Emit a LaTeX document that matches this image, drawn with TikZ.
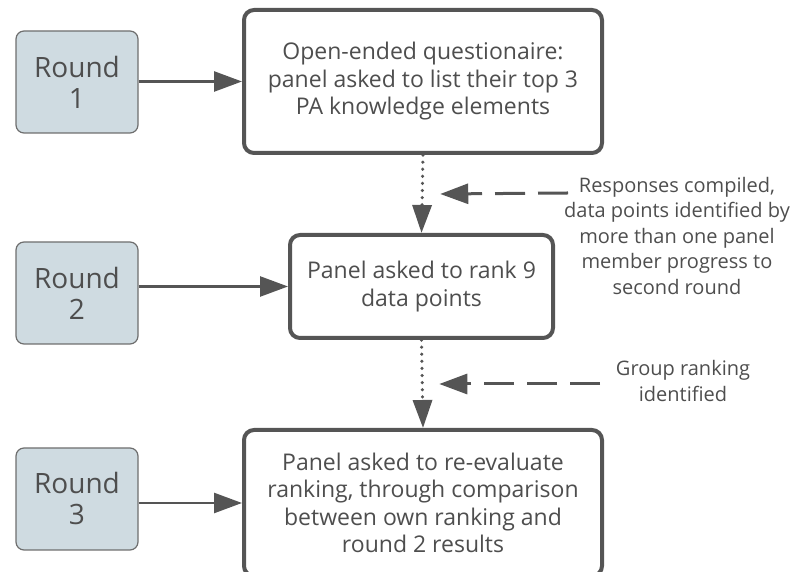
\documentclass[tikz,border=0pt]{standalone}
\usepackage{fontspec}
\setmainfont{Open Sans}
\usetikzlibrary{arrows.meta, positioning, calc}

\definecolor{linegray}{RGB}{85,85,85}
\definecolor{roundfill}{RGB}{207,219,225}
\definecolor{textgray}{RGB}{78,78,78}

\begin{document}
\begin{tikzpicture}[
  x=1pt, y=1pt,
  roundbox/.style = {draw=linegray!85, fill=roundfill, line width=1.2pt, rounded corners=8pt,
                     minimum width=122pt, minimum height=102pt, align=center,
                     font=\fontsize{28}{31}\selectfont, text=textgray},
  stepbox/.style = {draw=linegray, fill=white, line width=4pt, rounded corners=10pt,
                    align=center, font=\fontsize{23}{27.5}\selectfont, text=textgray},
  note/.style = {align=center, font=\fontsize{20}{25.5}\selectfont, text=textgray},
  flow/.style = {draw=linegray, line width=2.6pt, -{Triangle[length=28pt, width=20pt]}},
  pass/.style = {flow, line width=3.4pt, line cap=round, dash pattern=on 0.1pt off 7pt,
                 -{Triangle[length=28pt, width=19pt, line cap=butt]}},
  feedback/.style = {flow, line width=3pt, dash pattern=on 30pt off 13pt}
]

% Frame
\useasboundingbox (0,0) rectangle (795,572);

% Rounds
\node[roundbox] (r1) at (77,490) {Round\\1};
\node[roundbox] (r2) at (77,279) {Round\\2};
\node[roundbox] (r3) at (77,73) {Round\\3};

% Steps
\node[stepbox, minimum width=358pt, minimum height=143pt] (s1) at (423,490.5)
  {Open-ended questionaire:\\panel asked to list their top 3\\PA knowledge elements};
\node[stepbox, minimum width=263pt, minimum height=103pt] (s2) at (421.5,285.5)
  {Panel asked to rank 9\\data points};
\node[stepbox, minimum width=358pt, minimum height=146pt] (s3) at (423,69)
  {Panel asked to re-evaluate\\ranking, through comparison\\between own ranking and\\round 2 results};

% Round to step
\draw[flow] (r1.east |- s1.west) -- (s1.west);
\draw[flow] (r2.east |- s2.west) -- (s2.west);
\draw[flow] (r3.east |- s3.west) -- (s3.west);

% Step to step
\draw[pass] (s1.south) -- (s2.north);
\draw[pass] (s2.south) -- (s3.north);

% Notes
\node[note] (n1) at (677,336)
  {Responses compiled,\\data points identified by\\more than one panel\\member progress to\\second round};
\node[note] (n2) at (683,191) {Group ranking\\identified};

\coordinate (m1) at ($(s1.south)!0.5!(s2.north)+(18,0)$);
\coordinate (m2) at ($(s2.south)!0.5!(s3.north)+(17,0)$);
\coordinate (f1) at (568,379);
\coordinate (f2) at (600,188);
\draw[feedback] (f1) -- (m1);
\draw[feedback] (f2) -- (m2);

\end{tikzpicture}
\end{document}
